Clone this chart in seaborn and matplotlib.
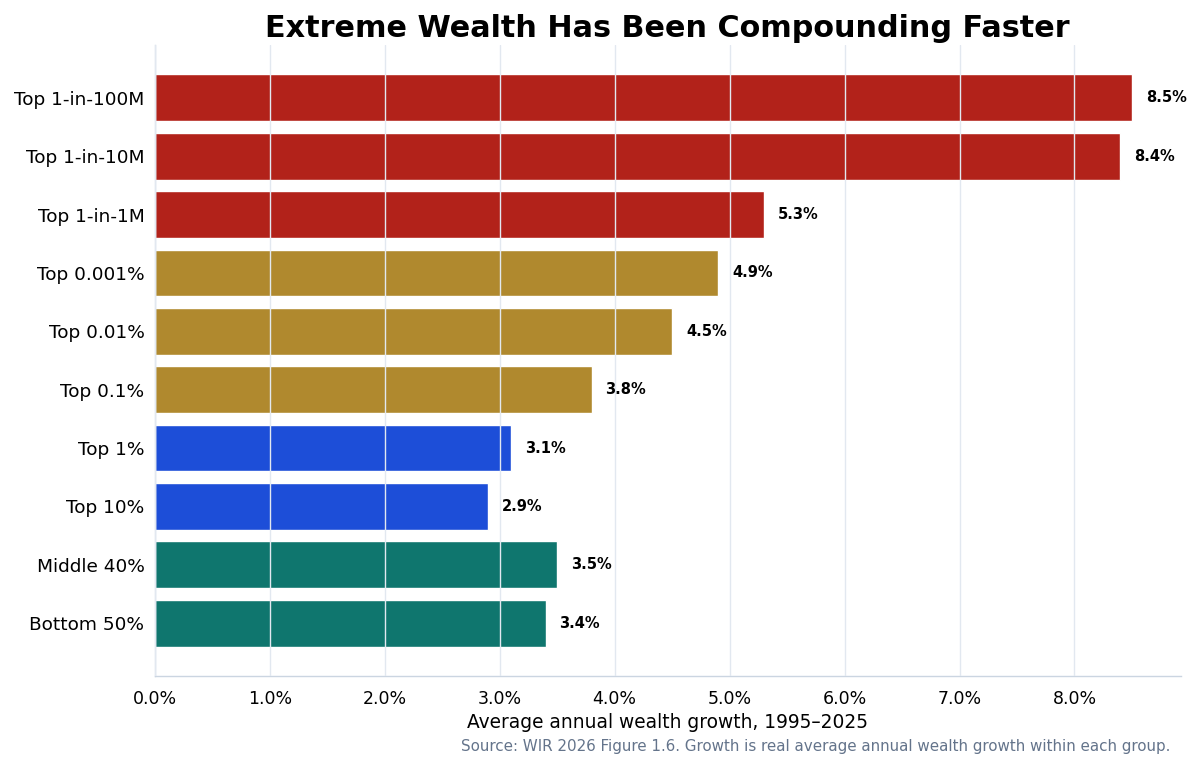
import matplotlib
matplotlib.use("Agg")
import matplotlib.pyplot as plt
import seaborn as sns
import pandas as pd
from matplotlib.ticker import FuncFormatter

groups = ["Top 1-in-100M", "Top 1-in-10M", "Top 1-in-1M", "Top 0.001%", "Top 0.01%",
          "Top 0.1%", "Top 1%", "Top 10%", "Middle 40%", "Bottom 50%"]
growth = [8.5, 8.4, 5.3, 4.9, 4.5, 3.8, 3.1, 2.9, 3.5, 3.4]
tiers = ["ultra", "ultra", "ultra", "rich", "rich", "rich", "top", "top", "mass", "mass"]
tier_colors = {"ultra": "#B2221A", "rich": "#B0892E", "top": "#1D4ED8", "mass": "#0F766E"}

df = pd.DataFrame({"group": groups, "growth": growth, "tier": tiers})

sns.set_theme(style="white")
plt.rcParams["font.family"] = ["DejaVu Sans"]
plt.rcParams["text.color"] = "black"
plt.rcParams["axes.labelcolor"] = "black"

fig = plt.figure(figsize=(12, 7.67), dpi=100)
ax = fig.add_axes([0.129, 0.119, 0.855, 0.822])

sns.barplot(data=df, x="growth", y="group", hue="tier", palette=tier_colors,
            dodge=False, legend=False, width=0.8, ax=ax, saturation=1)

ax.set_xlim(0, 8.925)
ax.set_ylim(9.9, -0.9)
ax.xaxis.set_major_formatter(FuncFormatter(lambda v, p: f"{v:.1f}%"))
ax.set_xticks([0, 1, 2, 3, 4, 5, 6, 7, 8])
ax.grid(axis="x", color="#E2E8F0", linewidth=1.0)
ax.set_axisbelow(False)

for i, v in enumerate(growth):
    ax.text(v + 0.12, i, f"{v:.1f}%", va="center", ha="left", fontsize=10.5,
            fontweight="bold", color="black")

for s in ["top", "right"]:
    ax.spines[s].set_visible(False)
for s in ["left", "bottom"]:
    ax.spines[s].set_color("#CBD5E1")
    ax.spines[s].set_linewidth(1.0)

ax.tick_params(axis="both", which="major", length=4, color="#555555",
               labelcolor="black")
ax.tick_params(axis="x", labelsize=12.5, pad=6)
ax.tick_params(axis="y", labelsize=13.3)
ax.set_ylabel("")
ax.set_xlabel("Average annual wealth growth, 1995\u20132025", fontsize=13.4, labelpad=4)
ax.set_title("Extreme Wealth Has Been Compounding Faster", fontsize=21.8,
             fontweight="bold", pad=6, color="black")

fig.text(0.975, 0.027, "Source: WIR 2026 Figure 1.6. Growth is real average annual wealth growth within each group.",
         ha="right", va="center", fontsize=10.9, color="#64748B")

fig.savefig("out.png", dpi=100)
